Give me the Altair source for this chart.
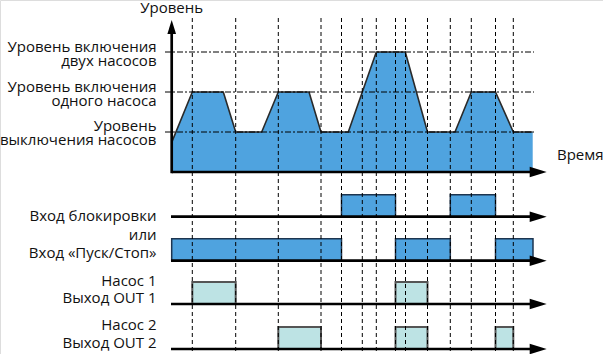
import altair as alt
import pandas as pd

# ---------------- data ----------------
# vertical guide moments (time units)
guide_times = [192.3, 235.7, 278.3, 321.0, 341.5, 362.3, 376.3, 395.5,
               405.5, 427.5, 450.3, 471.3, 495.5, 513.3]

# liquid level profile (time, level: 1 = off, 2 = one pump, 3 = two pumps)
profile_t = [171.7, 192.3, 223.3, 235.7, 261.7, 278.3, 309.0, 321.0, 348.3,
             362.3, 376.3, 405.3, 427.5, 455.0, 471.3, 495.5, 513.3, 532.7]
profile_level = [0.74, 2, 2, 1, 1, 2, 2, 1, 1, 2, 3, 3, 1, 1, 2, 2, 1, 1]

level_values = [1, 2, 3]
level_labels = [["Уровень", "выключения насосов"],
                ["Уровень включения", "одного насоса"],
                ["Уровень включения", "двух насосов"]]

# digital signals: (start, end) of high state
block_start = [341.5, 450.3]
block_end = [395.5, 495.5]
startstop_start = [171.7, 395.5, 495.5]
startstop_end = [341.5, 450.3, 533.0]
pump1_start = [192.3, 395.5]
pump1_end = [235.7, 427.5]
pump2_start = [278.3, 395.5, 495.5]
pump2_end = [321.0, 427.5, 513.3]

signal_labels = [["Вход блокировки", "или", "Вход «Пуск/Стоп»"],
                 ["Насос 1", "Выход OUT 1"],
                 ["Насос 2", "Выход OUT 2"]]

# ---------------- layout ----------------
W, H = 603, 354
T0, T_END, ARROW_TIP = 171.7, 533.0, 546.7
LEVEL_BASE, LEVEL_STEP = 172.0, 40.0
ROW_BASE = [216.7, 260.7, 304.0, 349.0]
PULSE_H = 22.0
BLUE = "#4fa3df"
LIGHT = "#bde3e4"
FONT = "Open Sans"
FS = 15


def ly(level):
    return LEVEL_BASE - LEVEL_STEP * level


xs = alt.Scale(domain=[0, W], nice=False, zero=False)
ys = alt.Scale(domain=[0, H], nice=False, zero=False, reverse=True)
X = lambda f: alt.X(f, type="quantitative", scale=xs, axis=None)
Y = lambda f: alt.Y(f, type="quantitative", scale=ys, axis=None)

# level area
prof = pd.DataFrame({"x": profile_t, "y": [ly(v) for v in profile_level],
                     "y0": [LEVEL_BASE] * len(profile_t)})
area = alt.Chart(prof).mark_area(color=BLUE, opacity=1).encode(
    x=X("x"), y=Y("y"), y2="y0")
outline = alt.Chart(prof).mark_line(color="#2a2a2a", strokeWidth=1.6).encode(
    x=X("x"), y=Y("y"))

# horizontal dash-dot level lines
lv = pd.DataFrame({"x": [165.0] * 3, "x2": [534.0] * 3,
                   "y": [ly(v) for v in level_values]})
level_rules = alt.Chart(lv).mark_rule(color="black", strokeWidth=1,
                                      strokeDash=[6, 2, 2, 2]).encode(
    x=X("x"), x2="x2", y=Y("y"))

# vertical dashed guides
gd = pd.DataFrame({"x": guide_times, "y": [18.0] * len(guide_times),
                   "y2": [H] * len(guide_times)})
guides = alt.Chart(gd).mark_rule(color="black", strokeWidth=1,
                                 strokeDash=[4, 3]).encode(
    x=X("x"), y=Y("y"), y2="y2")

# pulses
rows = []
for s, e in zip(block_start, block_end):
    rows.append({"x": s, "x2": e, "y": ROW_BASE[0] - PULSE_H, "y2": ROW_BASE[0], "k": "blue"})
for s, e in zip(startstop_start, startstop_end):
    rows.append({"x": s, "x2": e, "y": ROW_BASE[1] - PULSE_H, "y2": ROW_BASE[1], "k": "blue"})
for s, e in zip(pump1_start, pump1_end):
    rows.append({"x": s, "x2": e, "y": ROW_BASE[2] - PULSE_H, "y2": ROW_BASE[2], "k": "light"})
for s, e in zip(pump2_start, pump2_end):
    rows.append({"x": s, "x2": e, "y": ROW_BASE[3] - PULSE_H, "y2": ROW_BASE[3], "k": "light"})
pdf = pd.DataFrame(rows)
blue_p = alt.Chart(pdf[pdf.k == "blue"]).mark_rect(
    fill=BLUE, stroke="#1d3550", strokeWidth=1.5).encode(
    x=X("x"), x2="x2", y=Y("y"), y2="y2")
light_p = alt.Chart(pdf[pdf.k == "light"]).mark_rect(
    fill=LIGHT, stroke="#555555", strokeWidth=2).encode(
    x=X("x"), x2="x2", y=Y("y"), y2="y2")

# axes (thick lines)
ax = pd.DataFrame({
    "x": [T0, T0] + [T0 - 0.7] * 4,
    "x2": [T0, 540.0] + [540.0] * 4,
    "y": [30.0, LEVEL_BASE] + ROW_BASE,
    "y2": [LEVEL_BASE + 1.2, LEVEL_BASE] + ROW_BASE,
})
axes = alt.Chart(ax).mark_rule(color="black", strokeWidth=2.7).encode(
    x=X("x"), x2="x2", y=Y("y"), y2="y2")

ARROW = "M0,-1L0.62,1L-0.62,1Z"
up = pd.DataFrame({"x": [T0], "y": [27.0]})
up_arrow = alt.Chart(up).mark_point(shape=ARROW, filled=True, color="black",
                                    size=196, opacity=1).encode(x=X("x"), y=Y("y"))
rt = pd.DataFrame({"x": [ARROW_TIP - 8.5] * 5, "y": [LEVEL_BASE] + ROW_BASE})
right_arrows = alt.Chart(rt).mark_point(shape=ARROW, filled=True, color="black",
                                        size=289, angle=90, opacity=1).encode(
    x=X("x"), y=Y("y"))

# texts
txt = [{"x": T0, "y": 8.0, "t": "Уровень", "a": "center"},
       {"x": 557.0, "y": 155.0, "t": "Время", "a": "left"}]
lab_y = {1: (126.0, 140.0), 2: (87.0, 101.0), 3: (47.0, 61.0)}
for v, lines in zip(level_values, level_labels):
    for yy, line in zip(lab_y[v], lines):
        txt.append({"x": 156.5, "y": yy, "t": line, "a": "right"})
sig_y = [(216.0, 235.0, 253.0), (280.5, 298.0), (325.0, 343.0)]
for ys_, lines in zip(sig_y, signal_labels):
    for yy, line in zip(ys_, lines):
        txt.append({"x": 156.5, "y": yy, "t": line, "a": "right"})
tdf = pd.DataFrame(txt)
texts = []
for a in ["left", "center", "right"]:
    sub = tdf[tdf.a == a]
    texts.append(alt.Chart(sub).mark_text(align=a, baseline="middle", font=FONT,
                                          fontSize=FS, color="#111111").encode(
        x=X("x"), y=Y("y"), text="t:N"))

chart = alt.layer(area, outline, blue_p, light_p, level_rules, guides, axes,
                  up_arrow, right_arrows, *texts).properties(
    width=W, height=H, padding=0, autosize="none"
).configure_view(stroke=None).configure(background="white")

chart.save("out.html", embed_options={"renderer": "svg", "actions": False})
